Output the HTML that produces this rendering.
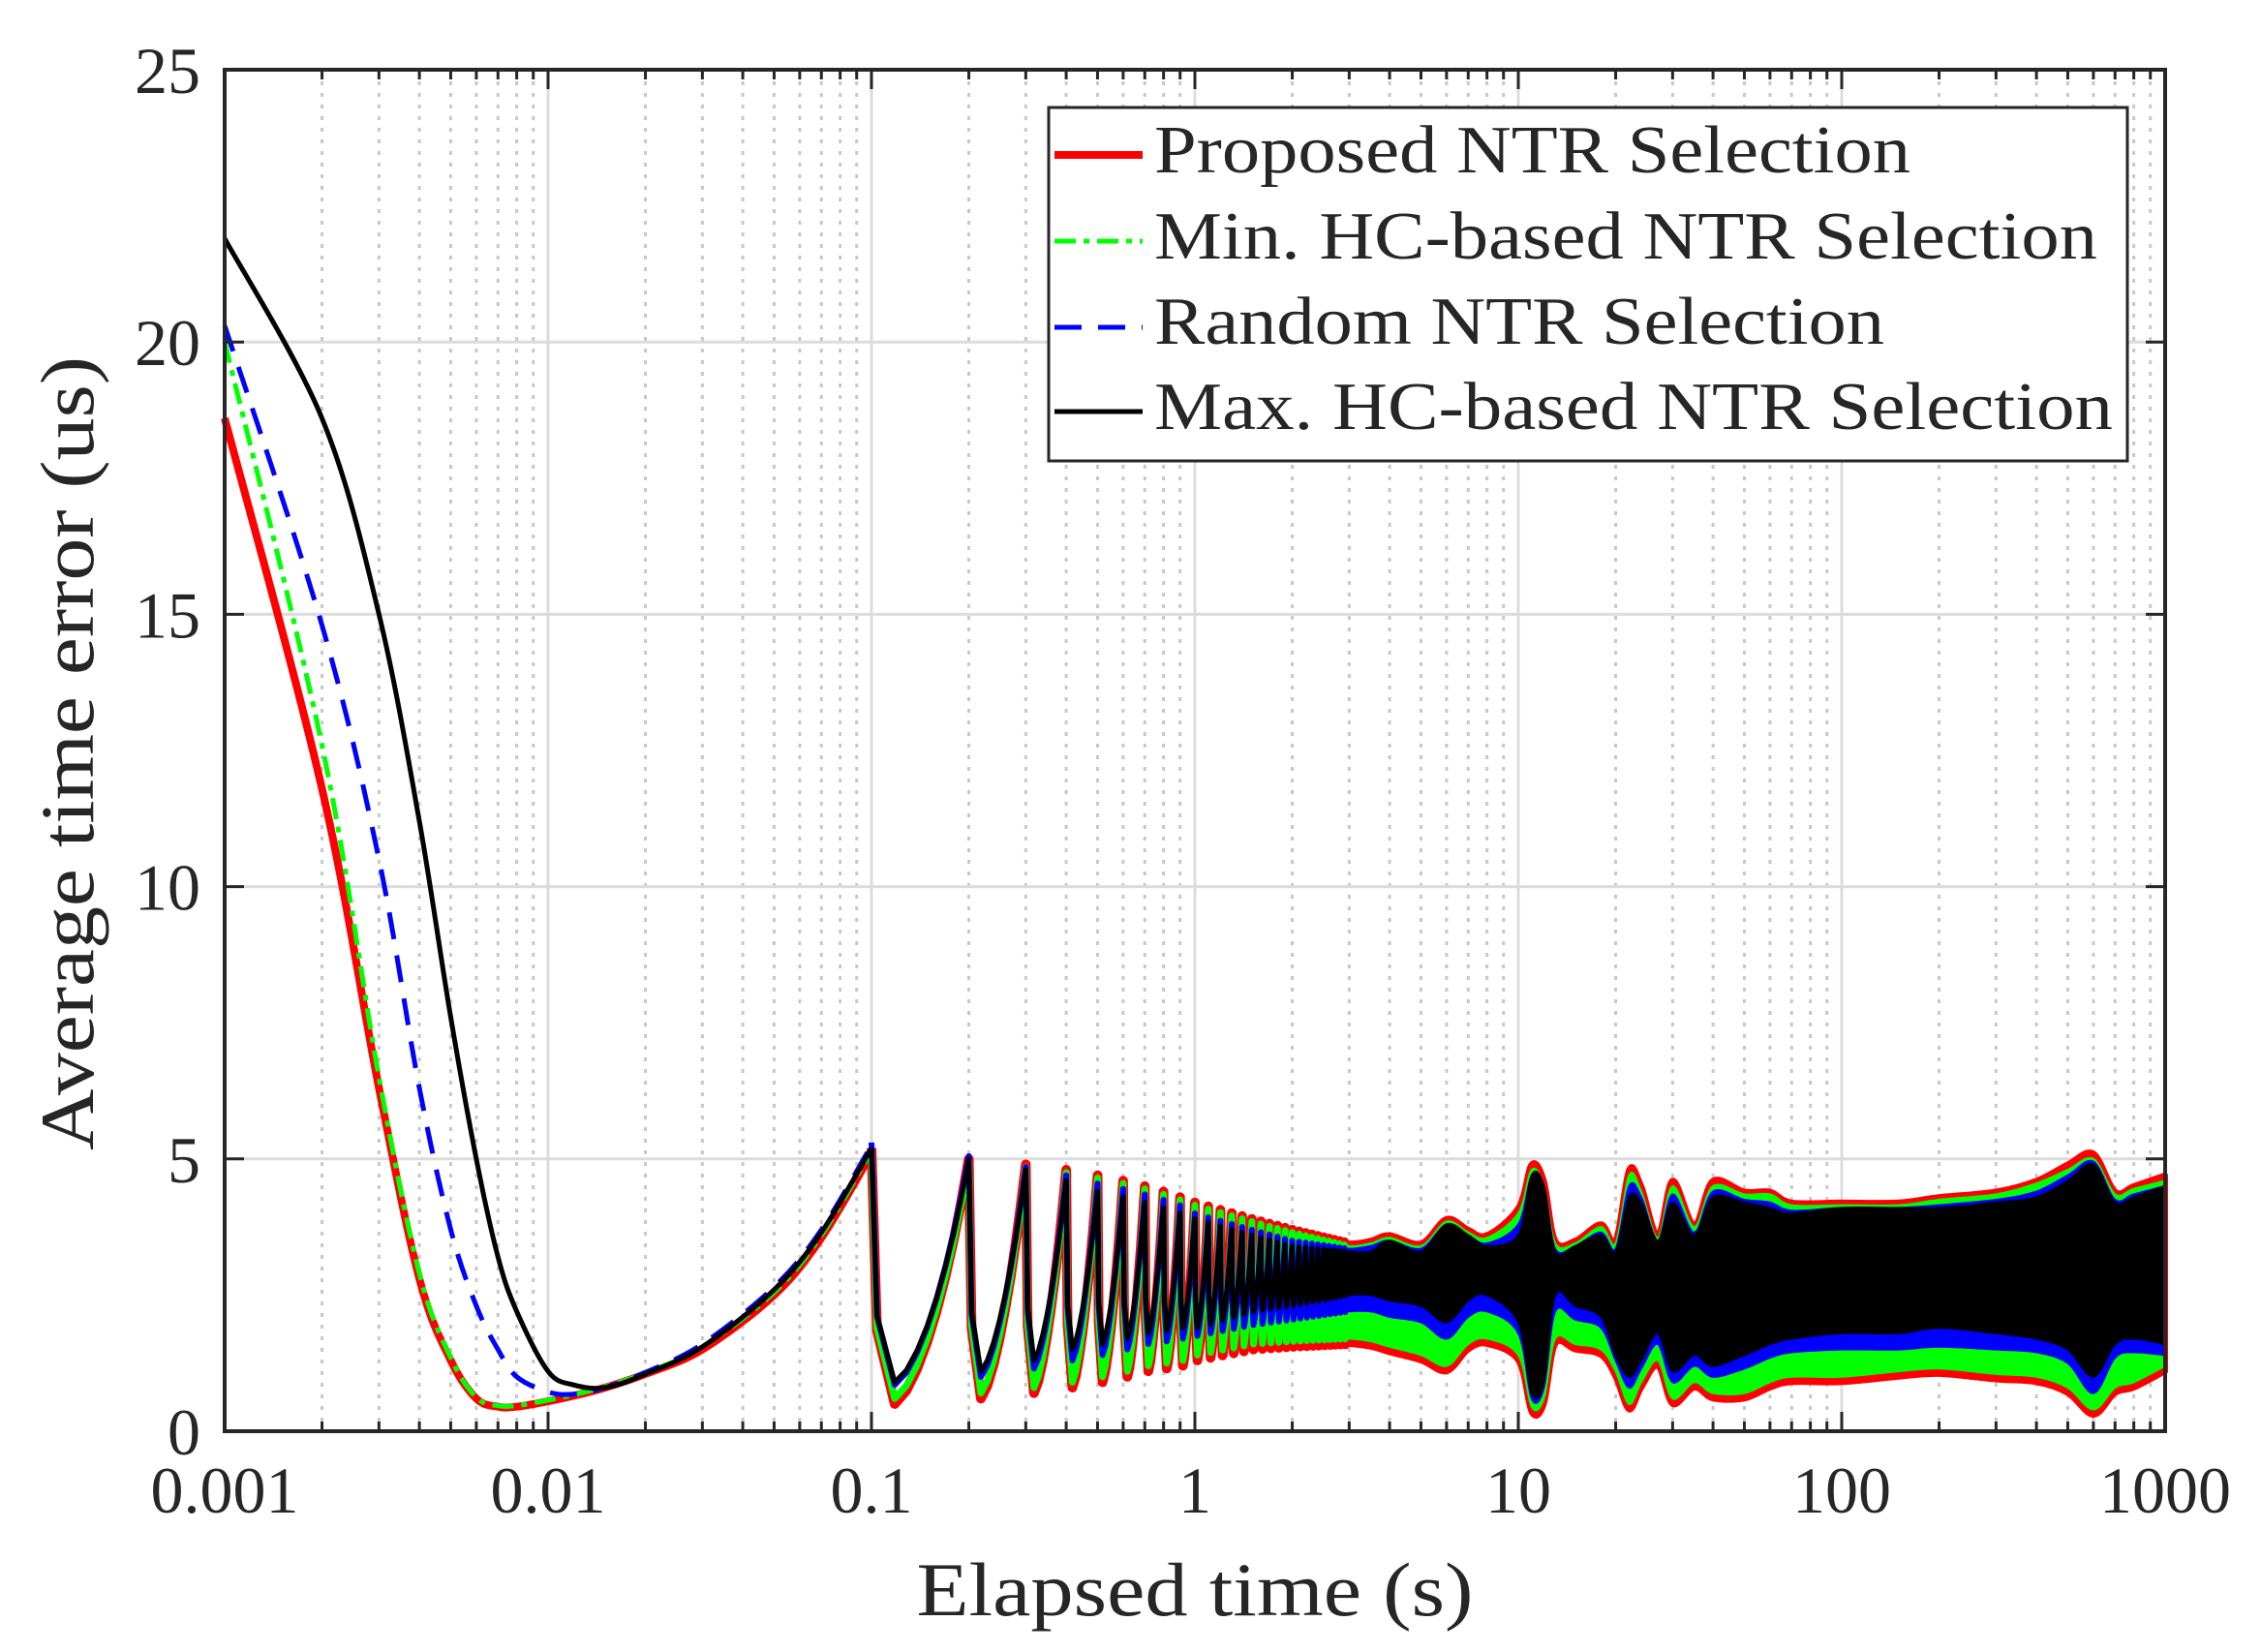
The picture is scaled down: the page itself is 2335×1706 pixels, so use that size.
<!DOCTYPE html>
<html><head><meta charset="utf-8"><style>
html,body{margin:0;padding:0;background:#fff;}
svg{display:block;}
text{font-family:"Liberation Serif",serif;fill:#262626;}
</style></head><body>
<svg id="chart" width="2335" height="1706" viewBox="0 0 2335 1706" xmlns="http://www.w3.org/2000/svg">
<rect width="2335" height="1706" fill="#fff"/>
<g id="grid"></g>
<g id="series"></g>
<g id="axes"></g>
<text x="1234" y="1668" font-size="78" text-anchor="middle" textLength="575" lengthAdjust="spacingAndGlyphs">Elapsed time (s)</text>
<text transform="translate(96,778) rotate(-90)" x="0" y="0" font-size="78" text-anchor="middle" textLength="820" lengthAdjust="spacingAndGlyphs">Average time error (us)</text>
<g>
<rect x="1083" y="111" width="1114" height="365" fill="#fff" stroke="#262626" stroke-width="3"/>
<g>
<line x1="1089" y1="160" x2="1180" y2="160" stroke="#ff0000" stroke-width="8"/>
<text x="1192" y="178" font-size="70" fill="#000" textLength="781" lengthAdjust="spacingAndGlyphs">Proposed NTR Selection</text></g>
<g>
<line x1="1089" y1="249" x2="1180" y2="249" stroke="#00ff00" stroke-width="5" stroke-dasharray="22,8,6,8"/>
<text x="1192" y="267" font-size="70" fill="#000" textLength="974" lengthAdjust="spacingAndGlyphs">Min. HC-based NTR Selection</text></g>
<g>
<line x1="1089" y1="338" x2="1180" y2="338" stroke="#0000ff" stroke-width="5" stroke-dasharray="28,17"/>
<text x="1192" y="355" font-size="70" fill="#000" textLength="754" lengthAdjust="spacingAndGlyphs">Random NTR Selection</text></g>
<g>
<line x1="1089" y1="425" x2="1180" y2="425" stroke="#000" stroke-width="5"/>
<text x="1192" y="443" font-size="70" fill="#000" textLength="990" lengthAdjust="spacingAndGlyphs">Max. HC-based NTR Selection</text></g>
</g>
</svg>
<script>
// ---- data ----
const xTickValues = [0.001, 0.01, 0.1, 1, 10, 100, 1000];
const xTickLabels = ["0.001", "0.01", "0.1", "1", "10", "100", "1000"];
const yTickValues = [0, 5, 10, 15, 20, 25];
const yTickLabels = ["0", "5", "10", "15", "20", "25"];
// early smooth part (0.001 – 0.1)
const earlyX = [0.001, 0.002, 0.003, 0.004, 0.005, 0.006, 0.007, 0.008, 0.01, 0.012, 0.015, 0.02, 0.03, 0.05, 0.07, 0.1];
const redEarly   = [18.6, 11.8, 6.3, 2.8, 1.3, 0.6, 0.45, 0.45, 0.55, 0.65, 0.8, 1.05, 1.5, 2.5, 3.55, 5.1];
const greenEarly = [20.0, 12.6, 6.5, 2.9, 1.35, 0.62, 0.47, 0.47, 0.57, 0.67, 0.82, 1.07, 1.55, 2.55, 3.6, 5.15];
const blueEarly  = [20.3, 14.8, 10.5, 6.3, 3.7, 2.3, 1.5, 1.0, 0.72, 0.68, 0.8, 1.08, 1.6, 2.65, 3.7, 5.25];
const blackEarly = [21.9, 18.6, 15.0, 11.2, 7.6, 5.0, 3.2, 2.2, 1.1, 0.85, 0.8, 1.05, 1.55, 2.6, 3.65, 5.2];
// oscillation envelope (peaks / troughs), 0.1 – 1000
const envX = [0.1,0.2,0.3,0.4,0.5,0.6,0.7,0.8,0.9,1,1.5,2,3,3.5,4,5,6,7,8,10,11,12,13,15,18,20,22,24,27,30,35,40,50,60,70,100,150,200,300,400,500,600,700,800,1000];
const redUpper   = [5.2,5.0,4.9,4.8,4.7,4.6,4.5,4.4,4.3,4.2,3.9,3.7,3.45,3.5,3.6,3.45,3.9,3.7,3.6,4.1,4.9,4.6,3.5,3.5,3.8,3.5,4.8,4.5,3.6,4.6,3.8,4.6,4.4,4.4,4.2,4.2,4.2,4.3,4.4,4.6,4.9,5.1,4.4,4.5,4.7];
const redLower   = [0.5,0.6,0.7,0.8,0.9,1.0,1.1,1.15,1.2,1.3,1.5,1.55,1.6,1.55,1.45,1.3,1.1,1.5,1.6,1.3,0.35,0.5,1.6,1.5,1.4,1.0,0.4,0.8,1.2,0.5,0.8,0.6,0.6,0.8,0.9,0.9,1.0,1.05,0.95,0.9,0.7,0.3,0.7,0.8,1.1];
const greenUpper = [5.15,4.95,4.85,4.75,4.65,4.55,4.45,4.35,4.25,4.15,3.85,3.65,3.4,3.45,3.55,3.4,3.85,3.65,3.55,4.0,4.8,4.5,3.45,3.45,3.75,3.45,4.7,4.4,3.55,4.5,3.75,4.5,4.35,4.35,4.15,4.15,4.15,4.25,4.35,4.55,4.8,5.0,4.35,4.45,4.6];
const greenLower = [0.6,0.7,0.8,0.9,1.0,1.1,1.2,1.25,1.3,1.4,1.6,1.65,1.7,1.65,1.55,1.4,1.2,1.6,1.7,1.4,0.45,0.6,1.7,1.6,1.5,1.1,0.5,0.9,1.3,0.6,0.9,0.7,0.7,0.9,1.0,1.0,1.1,1.15,1.05,1.0,0.8,0.4,0.8,0.9,1.2];
const blueUpper  = [5.3,5.05,4.85,4.7,4.55,4.45,4.35,4.25,4.15,4.0,3.7,3.5,3.35,3.4,3.5,3.35,3.8,3.6,3.45,3.8,4.7,4.5,3.35,3.4,3.65,3.35,4.5,4.3,3.5,4.35,3.65,4.4,4.25,4.2,4.05,4.1,4.1,4.15,4.25,4.4,4.7,4.95,4.25,4.35,4.5];
const blueLower  = [0.85,1.0,1.15,1.3,1.4,1.5,1.6,1.65,1.7,1.75,1.95,2.05,2.2,2.2,2.1,2.0,1.7,2.1,2.2,1.8,0.6,0.8,2.2,2.05,1.9,1.3,0.8,1.15,1.6,0.9,1.2,1.0,1.15,1.35,1.45,1.5,1.5,1.55,1.5,1.45,1.25,0.7,1.35,1.45,1.4];
const blackUpper = [5.2,5.0,4.8,4.6,4.4,4.3,4.2,4.1,4.0,3.9,3.6,3.4,3.3,3.3,3.5,3.3,3.8,3.6,3.4,3.6,4.7,4.5,3.3,3.4,3.6,3.3,4.3,4.2,3.5,4.2,3.6,4.3,4.2,4.1,4.0,4.1,4.1,4.1,4.2,4.3,4.6,4.9,4.2,4.3,4.5];
const blackLower = [0.9,1.1,1.3,1.5,1.6,1.7,1.8,1.85,1.9,1.9,2.2,2.3,2.5,2.5,2.4,2.3,2.0,2.4,2.5,2.0,0.7,0.9,2.5,2.3,2.1,1.4,1.0,1.3,1.8,1.1,1.4,1.2,1.4,1.6,1.7,1.8,1.8,1.9,1.8,1.7,1.5,1.0,1.6,1.7,1.6];

// ---- axes ----
const L = 232, R = 2236, T = 72, B = 1478;
const xMin = -3, xMax = 3;
function sx(v){ return L + (Math.log10(v) - xMin) / (xMax - xMin) * (R - L); }
function sy(v){ return B - v / 25 * (B - T); }
const NS = "http://www.w3.org/2000/svg";
function mk(tag, attrs, parent){ const e = document.createElementNS(NS, tag); for (const k in attrs) e.setAttribute(k, attrs[k]); parent.appendChild(e); return e; }
const grid = document.getElementById('grid'), axes = document.getElementById('axes'), ser = document.getElementById('series');

for (let d = -3; d < 3; d++) {
  for (let m = 2; m <= 9; m++) {
    const x = sx(m * Math.pow(10, d));
    const g = mk('line', {x1:x, x2:x, y1:T, y2:B, stroke:'#c8c8c8', 'stroke-width':3, 'stroke-dasharray':'4,8'}, grid);
    
    
    mk('line', {x1:x, x2:x, y1:B, y2:B-10, stroke:'#262626', 'stroke-width':3}, axes);
    mk('line', {x1:x, x2:x, y1:T, y2:T+10, stroke:'#262626', 'stroke-width':3}, axes);
  }
}
xTickValues.forEach((v, i) => {
  const x = sx(v);
  const g = mk('line', {x1:x, x2:x, y1:T, y2:B, stroke:'#dcdcdc', 'stroke-width':3}, grid);
  
  
  mk('line', {x1:x, x2:x, y1:B, y2:B-20, stroke:'#262626', 'stroke-width':3}, axes);
  mk('line', {x1:x, x2:x, y1:T, y2:T+20, stroke:'#262626', 'stroke-width':3}, axes);
  const t = mk('text', {x:x, y:1562, 'font-size':68, 'text-anchor':'middle'}, axes);
  t.textContent = xTickLabels[i];
  
  
});
yTickValues.forEach((v, i) => {
  const y = sy(v);
  const g = mk('line', {x1:L, x2:R, y1:y, y2:y, stroke:'#dcdcdc', 'stroke-width':3}, grid);
  
  
  mk('line', {x1:L, x2:L+20, y1:y, y2:y, stroke:'#262626', 'stroke-width':3}, axes);
  mk('line', {x1:R, x2:R-20, y1:y, y2:y, stroke:'#262626', 'stroke-width':3}, axes);
  const t = mk('text', {x:207, y:y+24, 'font-size':68, 'text-anchor':'end'}, axes);
  t.textContent = yTickLabels[i];
  
  
});
const frame = mk('rect', {x:L, y:T, width:R-L, height:B-T, fill:'none', stroke:'#262626', 'stroke-width':4}, axes);



// ---- helpers ----
function interp(xs, ys, v){
  const lv = Math.log10(v);
  if (v <= xs[0]) return ys[0];
  for (let i = 1; i < xs.length; i++) {
    if (v <= xs[i]) { const a = Math.log10(xs[i-1]), b = Math.log10(xs[i]); const f = (lv - a) / (b - a); return ys[i-1] + f * (ys[i] - ys[i-1]); }
  }
  return ys[ys.length - 1];
}
// Catmull-Rom smoothing through pixel points
function smooth(pts, start){
  let d = (start ? 'M' : 'L') + pts[0][0].toFixed(1) + ',' + pts[0][1].toFixed(1);
  for (let i = 0; i < pts.length - 1; i++) {
    const p0 = pts[Math.max(i-1,0)], p1 = pts[i], p2 = pts[i+1], p3 = pts[Math.min(i+2, pts.length-1)];
    const c1x = p1[0] + (p2[0]-p0[0])/6, c1y = p1[1] + (p2[1]-p0[1])/6;
    const c2x = p2[0] - (p3[0]-p1[0])/6, c2y = p2[1] - (p3[1]-p1[1])/6;
    d += 'C' + c1x.toFixed(1)+','+c1y.toFixed(1)+' '+c2x.toFixed(1)+','+c2y.toFixed(1)+' '+p2[0].toFixed(1)+','+p2[1].toFixed(1);
  }
  return d;
}

// ---- series ----
const seriesDefs = [
  {name:'proposed', color:'#ff0000', early:redEarly, up:redUpper, lo:redLower, ew:8, sw:10, dash:null},
  {name:'min-hc', color:'#00ff00', early:greenEarly, up:greenUpper, lo:greenLower, ew:5, sw:7, dash:'22,8,6,8'},
  {name:'random', color:'#0000ff', early:blueEarly, up:blueUpper, lo:blueLower, ew:5, sw:6, dash:'28,17'},
  {name:'max-hc', color:'#000000', early:blackEarly, up:blackUpper, lo:blackLower, ew:5, sw:5, dash:null}
];
seriesDefs.forEach(s => {
  const g = mk('g', {}, ser);
  
  
  // early curve
  const d = smooth(earlyX.map((x, i) => [sx(x), sy(s.early[i])]), true);
  const p = mk('path', {d:d, fill:'none', stroke:s.color, 'stroke-width':s.ew, 'stroke-linejoin':'round'}, g);
  if (s.dash) p.setAttribute('stroke-dasharray', s.dash);
  
  
  // sawtooth oscillations 0.1 – 3
  let sd = 'M' + sx(0.1).toFixed(1) + ',' + sy(interp(envX, s.up, 0.1)).toFixed(1);
  for (let k = 1; k < 30; k++) {
    const t0 = k * 0.1, t1 = (k + 1) * 0.1;
    const tm = t0 + 0.018;
    const m = interp(envX, s.lo, t0), P = interp(envX, s.up, t1);
    sd += 'L' + sx(t0 + 0.004).toFixed(1) + ',' + sy(P*0.3 + m*0.7).toFixed(1);
    sd += 'L' + sx(tm).toFixed(1) + ',' + sy(m).toFixed(1);
    for (let j = 1; j <= 8; j++) {
      const f = j / 8;
      const t = tm + (t1 - tm) * f;
      sd += 'L' + sx(t).toFixed(1) + ',' + sy(m + (P - m) * Math.pow(f, 1.4)).toFixed(1);
    }
  }
  const sp = mk('path', {d:sd, fill:'none', stroke:s.color, 'stroke-width':s.sw, 'stroke-linejoin':'round'}, g);
  
  
  // dense band 2.5 – 1000
  const xs = [2.5].concat(envX.filter(x => x > 2.5));
  const upPts = xs.map(x => [sx(x), sy(interp(envX, s.up, x))]);
  const loPts = xs.slice().reverse().map(x => [sx(x), sy(interp(envX, s.lo, x))]);
  const bd = smooth(upPts, true) + smooth(loPts, false) + 'Z';
  const bp = mk('path', {d:bd, fill:s.color, stroke:s.color, 'stroke-width':s.name === 'proposed' ? 6 : 2, 'stroke-linejoin':'round'}, g);
  
  
});
</script>
</body></html>
